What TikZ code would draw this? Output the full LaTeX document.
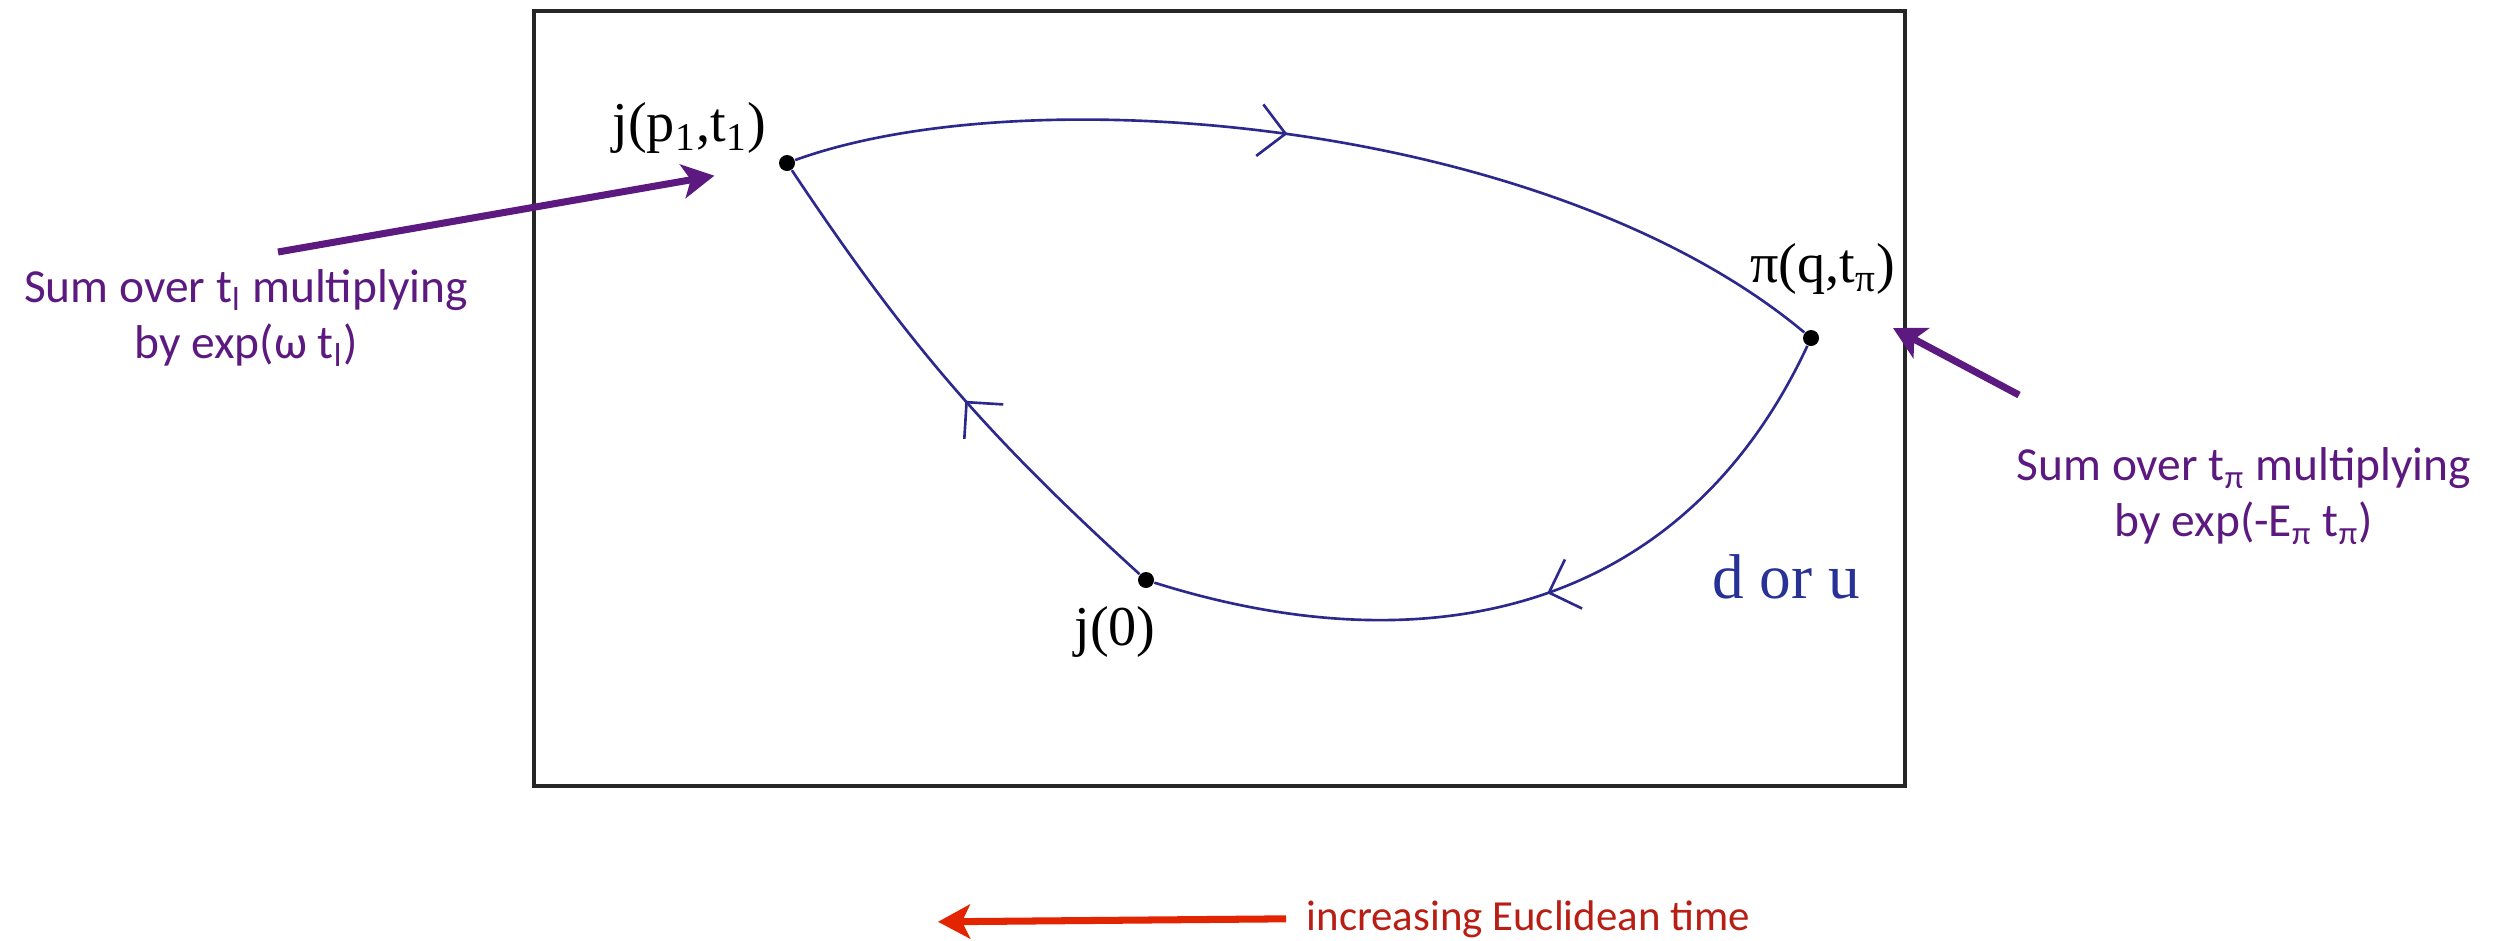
\documentclass[tikz,border=0pt]{standalone}
\usepackage{fontspec}
\setmainfont{Liberation Serif}
\newfontfamily\notefont{Carlito}
\usetikzlibrary{arrows.meta,calc,decorations.markings}

\definecolor{lineblue}{RGB}{45,40,140}
\definecolor{labelblue}{RGB}{40,50,150}
\definecolor{notepurple}{RGB}{92,26,128}
\definecolor{arrowred}{RGB}{226,36,0}
\definecolor{textred}{RGB}{184,30,20}

\begin{document}
\begin{tikzpicture}[
    line/.style={color=lineblue, line width=0.75pt},
    midarr/.style={postaction={decorate}, decoration={markings,
        mark=at position #1 with {\arrow{Straight Barb[length=2.6mm,width=5.2mm]}}}},
    vtx/.style={circle, fill=black, inner sep=0pt, minimum size=0.16cm},
    lbl/.style={font=\fontsize{16}{19}\selectfont, inner sep=0pt},
    note/.style={font=\notefont\fontsize{13.5}{16}\selectfont, text=notepurple,
                 align=center, inner sep=0pt},
    parr/.style={-{Stealth[length=3.2mm,width=3.4mm,inset=0.8mm]},
                 draw=notepurple, line width=2pt},
    rarr/.style={-{Stealth[length=3.2mm,width=3.4mm,inset=0.8mm]},
                 draw=arrowred, line width=2pt},
    frame/.style={draw=black!85, line width=1pt}
]
\useasboundingbox (0,0) rectangle (25.09,-9.40);

% ---- frame extents ----
\def\fL{5.34}
\def\fR{19.05}
\def\fT{-0.11}
\def\fB{-7.86}

% ===== FRAME =====
\draw[frame] (\fL,\fT) rectangle (\fR,\fB);

% ===== VERTICES =====
\node[vtx] (j1) at (7.87,-1.63) {};
\node[vtx] (pi) at (18.11,-3.38) {};
\node[vtx] (j0) at (11.46,-5.80) {};

\node[lbl, anchor=base east] (j1lbl) at (7.67,-1.41) {j(p\textsubscript{1},t\textsubscript{1})};
\node[lbl, anchor=base] (pilbl) at (18.23,-2.82) {π(q,t\textsubscript{π})};
\node[lbl, anchor=base] (j0lbl) at (11.15,-6.45) {j(0)};
\node[lbl, anchor=base, text=labelblue, font=\fontsize{18}{21}\selectfont]
    (quark) at (17.86,-5.98) {d or u};

% ===== QUARK LINES =====
\draw[line, midarr=0.47] (j1) .. controls (10.3,-0.75) and (15.5,-1.2) .. (pi);
\draw[line, midarr=0.48] (pi) .. controls (16.84,-6.10) and (14.32,-6.70) .. (j0);
\draw[line, midarr=0.46] (j0) to[bend left=7] (j1);

% ===== NOTES =====
\node[note] (sumj) at (2.46,-3.18) {Sum over t\textsubscript{l} multiplying\\by exp(ω t\textsubscript{l})};
\node[note] (sumpi) at (22.44,-4.96) {Sum over t\textsubscript{π} multiplying\\by exp(-E\textsubscript{π} t\textsubscript{π})};

\coordinate (jtail) at (2.78,-2.52);
\draw[parr, shorten >=0.65cm] (jtail) -- (j1);
\coordinate (pitail) at (20.19,-3.95);
\coordinate (pitip) at (18.93,-3.28);
\draw[parr] (pitail) -- (pitip);

% ===== TIME DIRECTION =====
\node[note, text=textred, anchor=base west, font=\notefont\fontsize{12.2}{15}\selectfont]
    (eucl) at (13.06,-9.30) {increasing Euclidean time};
\draw[rarr] ([xshift=-2mm]eucl.west) -- ++(-3.48,-0.03);

\end{tikzpicture}
\end{document}
